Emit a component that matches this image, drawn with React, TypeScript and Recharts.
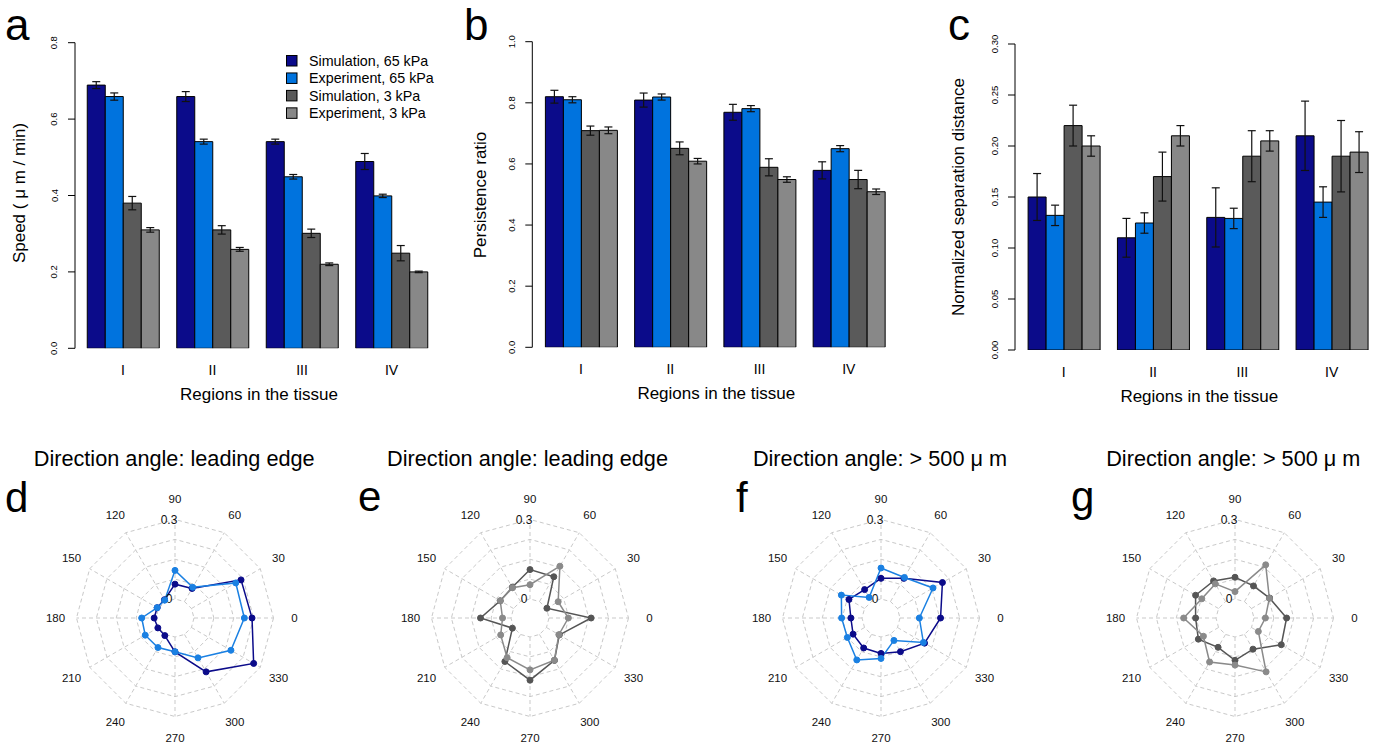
import React from "react";
import {
  BarChart,
  Bar,
  XAxis,
  YAxis,
  ErrorBar,
  Legend,
  RadarChart,
  Radar,
  PolarGrid,
  PolarAngleAxis,
  PolarRadiusAxis,
} from "recharts";

const FONT = '"Liberation Sans", Arial, Helvetica, sans-serif';

const regions = ["I", "II", "III", "IV"];
const seriesNames = ["Simulation, 65 kPa", "Experiment, 65 kPa", "Simulation, 3 kPa", "Experiment, 3 kPa"];
const barColors = ["#0B0B8A", "#0073DE", "#5A5A5A", "#888888"];
const keys = ["s65", "e65", "s3", "e3"];

// a: speed
const speedSim65 = [0.689, 0.659, 0.541, 0.489];
const speedSim65Err = [0.009, 0.013, 0.0065, 0.021];
const speedExp65 = [0.659, 0.541, 0.449, 0.399];
const speedExp65Err = [0.0095, 0.0065, 0.006, 0.0044];
const speedSim3 = [0.38, 0.31, 0.301, 0.249];
const speedSim3Err = [0.0175, 0.011, 0.011, 0.02];
const speedExp3 = [0.31, 0.259, 0.22, 0.2];
const speedExp3Err = [0.006, 0.005, 0.0035, 0.002];

// b: persistence ratio
const persSim65 = [0.82, 0.809, 0.769, 0.579];
const persSim65Err = [0.021, 0.023, 0.026, 0.028];
const persExp65 = [0.81, 0.819, 0.781, 0.65];
const persExp65Err = [0.01, 0.01, 0.01, 0.01];
const persSim3 = [0.709, 0.651, 0.589, 0.549];
const persSim3Err = [0.015, 0.021, 0.028, 0.03];
const persExp3 = [0.71, 0.609, 0.549, 0.509];
const persExp3Err = [0.011, 0.009, 0.009, 0.009];

// c: normalized separation distance
const sepSim65 = [0.15, 0.11, 0.13, 0.21];
const sepSim65Err = [0.023, 0.019, 0.029, 0.034];
const sepExp65 = [0.132, 0.1245, 0.129, 0.145];
const sepExp65Err = [0.01, 0.01, 0.01, 0.015];
const sepSim3 = [0.22, 0.17, 0.19, 0.19];
const sepSim3Err = [0.02, 0.024, 0.025, 0.035];
const sepExp3 = [0.2, 0.21, 0.205, 0.194];
const sepExp3Err = [0.01, 0.01, 0.01, 0.02];

const speedTicks = [0, 0.2, 0.4, 0.6, 0.8];
const persTicks = [0, 0.2, 0.4, 0.6, 0.8, 1.0];
const sepTicks = [0, 0.05, 0.1, 0.15, 0.2, 0.25, 0.3];

// d-g: direction angle distributions (index = angle / 30)
const angles = ["0", "30", "60", "90", "120", "150", "180", "210", "240", "270", "300", "330"];
const dSim65 = [0.219, 0.216, 0.057, 0.056, 0.008, 0.006, 0.007, 0.003, 0.005, 0.056, 0.163, 0.271];
const dExp65 = [0.19, 0.193, 0.062, 0.108, 0.006, 0.006, 0.054, 0.058, 0.057, 0.056, 0.102, 0.172];
const eSim3 = [0.159, 0.002, 0.108, 0.111, 0.062, 0.058, 0.115, 0.005, 0.118, 0.163, 0.113, 0.056];
const eExp3 = [0.073, 0.051, 0.154, 0.054, 0.06, 0.058, 0.032, 0.056, 0.101, 0.124, 0.112, 0.054];
const fSim65 = [0.153, 0.196, 0.101, 0.078, 0.052, 0.068, 0.042, 0.05, 0.059, 0.062, 0.075, 0.118];
const fExp65 = [0.073, 0.155, 0.105, 0.117, 0.018, 0.101, 0.077, 0.075, 0.111, 0.081, 0.026, 0.113];
const gSim3 = [0.123, 0.079, 0.068, 0.082, 0.09, 0.1, 0.077, 0.088, 0.056, 0.088, 0.064, 0.13];
const gExp3 = [0.043, 0.078, 0.16, 0.028, 0.077, 0.073, 0.122, 0.066, 0.12, 0.106, 0.163, 0.03];

const radarRings = [0, 0.075, 0.15, 0.225, 0.3];

function buildRows(vals: number[][], errs: number[][]) {
  return regions.map((r, i) => {
    const row: any = { region: r };
    keys.forEach((k, j) => {
      row[k] = vals[j][i];
      row[k + "Err"] = errs[j][i];
    });
    return row;
  });
}

const speedRows = buildRows(
  [speedSim65, speedExp65, speedSim3, speedExp3],
  [speedSim65Err, speedExp65Err, speedSim3Err, speedExp3Err]
);
const persRows = buildRows(
  [persSim65, persExp65, persSim3, persExp3],
  [persSim65Err, persExp65Err, persSim3Err, persExp3Err]
);
const sepRows = buildRows(
  [sepSim65, sepExp65, sepSim3, sepExp3],
  [sepSim65Err, sepExp65Err, sepSim3Err, sepExp3Err]
);

const CH = 420;
const XAXIS_H = 30;

const LegendBox = () => (
  <svg width={170} height={72} style={{ fontFamily: FONT }}>
    {seriesNames.map((n, i) => (
      <g key={n}>
        <rect x={6.5} y={5.5 + i * 17.45} width={10.5} height={10.5} fill={barColors[i]} stroke="#000" strokeWidth={1} />
        <text x={29} y={16 + i * 17.45} fontSize={14.3} fill="#000">
          {n}
        </text>
      </g>
    ))}
  </svg>
);

function BarPanel(props: any) {
  const { left, width, axisX, bandStart, bandEnd, topY, zeroY, yMax, yTicks, digits, rows, legend } = props;
  const yW = axisX - left;
  return (
    <div style={{ position: "absolute", left, top: 0 }}>
      <BarChart
        width={width}
        height={CH}
        data={rows}
        barGap={0}
        barSize={18}
        margin={{ top: topY, right: left + width - bandEnd, bottom: CH - zeroY - XAXIS_H, left: 0 }}
      >
        <XAxis
          dataKey="region"
          height={XAXIS_H}
          axisLine={false}
          tickLine={false}
          padding={{ left: bandStart - axisX, right: 0 }}
          tick={({ x, payload }: any) => (
            <text x={x} y={zeroY + 26.5} textAnchor="middle" fontSize={14} fontFamily={FONT} fill="#000">
              {payload.value}
            </text>
          )}
        />
        <YAxis
          width={yW}
          domain={[0, yMax]}
          ticks={yTicks}
          interval={0}
          allowDataOverflow
          tickSize={7}
          axisLine={{ stroke: "#000" }}
          tickLine={{ stroke: "#000" }}
          tick={({ y, payload }: any) => {
            const tx = yW - 17.5;
            return (
              <text
                transform={`rotate(-90 ${tx} ${y})`}
                x={tx}
                y={y}
                textAnchor="middle"
                fontSize={9.5}
                fontFamily={FONT}
                fill="#000"
              >
                {Number(payload.value).toFixed(digits)}
              </text>
            );
          }}
        />
        {keys.map((k, j) => (
          <Bar key={k} dataKey={k} fill={barColors[j]} stroke="#000" strokeWidth={1} isAnimationActive={false}>
            <ErrorBar dataKey={k + "Err"} width={4} stroke="#111" strokeWidth={1.2} direction="y" />
          </Bar>
        ))}
        {legend && (
          <Legend
            layout="vertical"
            align="center"
            verticalAlign="middle"
            content={() => <LegendBox />}
            wrapperStyle={{ position: "absolute", left: 280, top: 50, width: 170, height: 72 }}
          />
        )}
      </BarChart>
    </div>
  );
}

const R_IN = 19;
const R_OUT = 98.5;
const R_MAX = 0.3;
const ringRadii = radarRings.map((v) => R_IN + (v / R_MAX) * (R_OUT - R_IN));
const RW = 320;
const RH = 270;
const RCY = 617.5;
// chart runs clockwise from 0 deg, so walk the angles as 0, 330, 300, ... 30
const clockwiseOrder = angles.map((_, i) => (angles.length - i) % angles.length);

const AngleTick = ({ x, y, payload }: any) => (
  <text x={x} y={y} dy="0.36em" textAnchor="middle" fontSize={11.5} fontFamily={FONT} fill="#111">
    {payload.value}
  </text>
);

const RadiusTick = ({ x, y, payload }: any) => {
  const v = Number(payload.value);
  if (v !== 0 && Math.abs(v - 0.3) > 1e-9) return <g />;
  return (
    <text x={x - 6} y={y} dy="0.36em" textAnchor="middle" fontSize={12} fontFamily={FONT} fill="#111">
      {v === 0 ? "0" : "0.3"}
    </text>
  );
};

function RadarPanel(props: any) {
  const { cxPage, sim, exp, colors } = props;
  const data = clockwiseOrder.map((i) => ({ angle: angles[i], sim: sim[i], exp: exp[i] }));
  return (
    <div style={{ position: "absolute", left: cxPage - RW / 2, top: RCY - RH / 2 }}>
      <RadarChart
        width={RW}
        height={RH}
        data={data}
        cx={RW / 2}
        cy={RH / 2}
        innerRadius={R_IN}
        outerRadius={R_OUT}
        startAngle={0}
        endAngle={-360}
        margin={{ top: 0, right: 0, bottom: 0, left: 0 }}
      >
        <PolarGrid gridType="polygon" polarRadius={ringRadii} stroke="#c9c9c9" strokeDasharray="4 3" />
        <PolarAngleAxis dataKey="angle" tickLine={false} axisLine={false} tickSize={21} tick={AngleTick} />
        <PolarRadiusAxis
          angle={90}
          domain={[0, R_MAX]}
          ticks={[0, 0.3]}
          axisLine={false}
          tickLine={false}
          tick={RadiusTick}
        />
        <Radar
          dataKey="sim"
          stroke={colors[0]}
          strokeWidth={1.5}
          fill="none"
          fillOpacity={0}
          dot={{ r: 3, fill: colors[0], fillOpacity: 1, stroke: colors[0], strokeWidth: 1 }}
          isAnimationActive={false}
        />
        <Radar
          dataKey="exp"
          stroke={colors[1]}
          strokeWidth={1.5}
          fill="none"
          fillOpacity={0}
          dot={{ r: 3, fill: colors[1], fillOpacity: 1, stroke: colors[1], strokeWidth: 1 }}
          isAnimationActive={false}
        />
      </RadarChart>
    </div>
  );
}

const blueColors = ["#0B0B8A", "#1A80E2"];
const grayColors = ["#555555", "#8A8A8A"];

const xLabel = "Regions in the tissue";
const leadTitle = "Direction angle: leading edge";
const farTitle = "Direction angle: > 500 \u03bc m";

export default function App() {
  return (
    <div
      style={{
        position: "absolute",
        left: 0,
        top: 0,
        width: 1386,
        height: 749,
        background: "#fff",
        fontFamily: FONT,
        overflow: "hidden",
      }}
    >
      <BarPanel
        left={0}
        width={460}
        axisX={75}
        bandStart={78.25}
        bandEnd={436.25}
        topY={42.7}
        zeroY={348.3}
        yMax={0.8}
        yTicks={speedTicks}
        digits={1}
        rows={speedRows}
        legend
      />
      <BarPanel
        left={460}
        width={470}
        axisX={532.3}
        bandStart={536.4}
        bandEnd={893.4}
        topY={41.7}
        zeroY={347.3}
        yMax={1.0}
        yTicks={persTicks}
        digits={1}
        rows={persRows}
      />
      <BarPanel
        left={930}
        width={456}
        axisX={1015}
        bandStart={1019.1}
        bandEnd={1376.4}
        topY={44}
        zeroY={350}
        yMax={0.3}
        yTicks={sepTicks}
        digits={2}
        rows={sepRows}
      />

      <RadarPanel cxPage={175} sim={dSim65} exp={dExp65} colors={blueColors} />
      <RadarPanel cxPage={529.5} sim={eSim3} exp={eExp3} colors={grayColors} />
      <RadarPanel cxPage={881} sim={fSim65} exp={fExp65} colors={blueColors} />
      <RadarPanel cxPage={1235} sim={gSim3} exp={gExp3} colors={grayColors} />

      <svg
        width={1386}
        height={749}
        style={{ position: "absolute", left: 0, top: 0, pointerEvents: "none", fontFamily: FONT }}
      >
        <g fontSize={44} fill="#000">
          <text x={5} y={40}>a</text>
          <text x={464} y={40}>b</text>
          <text x={948} y={40}>c</text>
        </g>
        <g fontSize={42} fill="#000">
          <text x={5} y={512}>d</text>
          <text x={358} y={511}>e</text>
          <text x={736} y={512}>f</text>
          <text x={1071} y={511}>g</text>
        </g>
        <g fontSize={17} fill="#000" textAnchor="middle">
          <text transform="rotate(-90 24.5 193)" x={24.5} y={193}>Speed ( {"\u03bc"} m / min)</text>
          <text transform="rotate(-90 486 195)" x={486} y={195}>Persistence ratio</text>
          <text transform="rotate(-90 964 197)" x={964} y={197}>Normalized separation distance</text>
          <text x={259} y={400}>{xLabel}</text>
          <text x={716.3} y={399}>{xLabel}</text>
          <text x={1199.3} y={401.5}>{xLabel}</text>
        </g>
        <g fontSize={21.7} fill="#000" textAnchor="middle">
          <text x={174.2} y={466}>{leadTitle}</text>
          <text x={527.5} y={466}>{leadTitle}</text>
          <text x={880} y={466}>{farTitle}</text>
          <text x={1233.3} y={466}>{farTitle}</text>
        </g>
      </svg>
    </div>
  );
}
